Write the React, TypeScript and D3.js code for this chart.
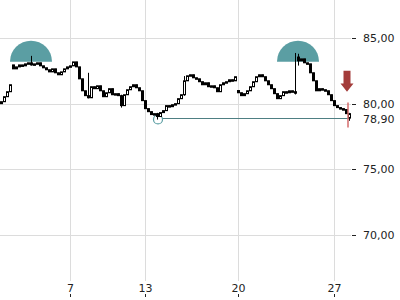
import React from "react";
import * as d3 from "d3";

const closes: number[] = [
  80.15, 80.53, 80.91, 81.44, 82.65, 82.8, 82.95, 82.88, 83.03, 83.11,
  82.95, 83.03, 83.11, 82.88, 82.73, 82.58, 82.42, 82.65, 82.35, 82.2,
  82.42, 82.65, 82.8, 82.88, 83.18, 82.8, 81.89, 80.98, 80.61, 80.45,
  81.29, 81.14, 81.36, 80.98, 80.53, 80.83, 81.14, 80.68, 80.76, 80.61,
  79.85, 80.68, 81.06, 81.29, 81.44, 81.21, 80.98, 80.23, 79.62, 79.39,
  79.17, 79.24, 79.02, 79.32, 79.47, 79.85, 79.77, 79.92, 80.0, 80.38,
  80.68, 81.74, 82.12, 82.2, 81.97, 81.89, 81.67, 81.44, 81.59, 81.29,
  81.36, 81.21, 80.91, 81.44, 81.59, 81.67, 81.82, 81.74, 82.05, 80.83,
  80.61, 80.76, 80.98, 81.29, 81.67, 82.05, 82.2, 82.05, 81.74, 81.44,
  81.14, 80.76, 80.38, 80.61, 80.91, 80.83, 80.98, 80.91, 80.83, 83.26,
  83.41, 83.11, 83.03, 82.35, 81.74, 80.98, 81.14, 81.06, 80.98, 80.68,
  80.23, 79.85, 79.7, 79.62, 79.55, 79.24, 78.9,
];
const firstOpen = 80.0;

// opening gaps: [candle index, open]
const gapOpens: [number, number][] = [
  [4, 82.95],
  [99, 83.55],
  [79, 81.0],
];

// [candle index, high, low]
const wicks: [number, number, number][] = [
  [10, 83.64, 82.9],
  [29, 82.35, 80.4],
  [40, 80.68, 79.7],
  [52, 79.3, 78.79],
  [61, 82.1, 80.6],
  [98, 83.86, 80.7],
  [99, 83.8, 82.9],
  [116, 79.3, 78.7],
];

const yTicks = [85, 80, 75, 70];
const lastPrice = 78.9;
const xTickIdx = [23, 48, 79, 111];
const xTickLabels = ["7", "13", "20", "27"];

// highs marked with domes: [index, price]
const domes: [number, number][] = [
  [10, 83.2],
  [99, 83.2],
];
const lowMark: [number, number] = [52, 78.8];
const currentRange: [number, number] = [80.08, 78.18];
const arrowPrice: [number, number] = [82.5, 80.9];

const fmt = (v: number) => v.toFixed(2).replace(".", ",");

export default function App() {
  const W = 400, H = 300;
  const x = d3.scaleLinear().domain([0, closes.length - 1]).range([1, 349]);
  const y = d3.scaleLinear().domain([70, 85]).range([235, 38]);
  const plotRight = 351;
  const plotBottom = 281;

  const candles = closes.map((c, i) => {
    const g = gapOpens.find((k) => k[0] === i);
    const o = g ? g[1] : i === 0 ? firstOpen : closes[i - 1];
    let hi = Math.max(o, c), lo = Math.min(o, c);
    const w = wicks.find((k) => k[0] === i);
    if (w) { hi = Math.max(hi, w[1]); lo = Math.min(lo, w[2]); }
    return { i, o, c, hi, lo };
  });

  const teal = "#5b9ea3";
  const arrowX = x(closes.length - 1) - 2;
  const ay0 = y(arrowPrice[0]), ay1 = y(arrowPrice[1]);
  const headStart = ay0 + (ay1 - ay0) * 0.6;

  return (
    <svg width={W} height={H} style={{ position: "absolute", left: 0, top: 0, fontFamily: "DejaVu Sans", fontSize: 11 }}>
      <rect width={W} height={H} fill="#fff" />
      {yTicks.map((t) => (
        <line key={"gy" + t} x1={0} x2={plotRight} y1={Math.round(y(t)) + 0.5} y2={Math.round(y(t)) + 0.5} stroke="#dcdcdc" />
      ))}
      {xTickIdx.map((t) => (
        <line key={"gx" + t} x1={Math.round(x(t)) + 0.5} x2={Math.round(x(t)) + 0.5} y1={0} y2={plotBottom} stroke="#dcdcdc" />
      ))}
      {domes.map(([i, p], k) => {
        const cx = x(i), cy = y(p), r = 21;
        return <path key={"d" + k} d={`M${cx - r},${cy} A${r},${r} 0 0 1 ${cx + r},${cy} Z`} fill={teal} />;
      })}
      <line x1={x(lowMark[0]) + 5} x2={plotRight - 2} y1={Math.round(y(lastPrice)) + 0.5} y2={Math.round(y(lastPrice)) + 0.5} stroke="#4e7f83" strokeWidth={1} />
      <circle cx={x(lowMark[0]) + 1} cy={y(lowMark[1])} r={4.5} fill="none" stroke={teal} strokeWidth={1.2} />
      {candles.map((d) => {
        const cx = Math.round(x(d.i));
        const top = y(Math.max(d.o, d.c));
        const bot = y(Math.min(d.o, d.c));
        const up = d.c >= d.o;
        const isLast = d.i === closes.length - 1;
        return (
          <g key={d.i}>
            <line x1={cx + 0.5} x2={cx + 0.5} y1={y(d.hi)} y2={y(d.lo)} stroke="#000" strokeWidth={1} />
            <rect x={cx - 0.5} y={top} width={2} height={Math.max(1.5, bot - top)} fill={up || isLast ? "#fff" : "#000"} stroke="#000" strokeWidth={1} />
          </g>
        );
      })}
      <line x1={x(closes.length - 1) - 1} x2={x(closes.length - 1) - 1} y1={y(currentRange[0])} y2={y(currentRange[1])} stroke="#d56b6b" strokeWidth={1.5} />
      <path
        d={`M${arrowX - 3.5},${ay0} L${arrowX + 3.5},${ay0} L${arrowX + 3.5},${headStart} L${arrowX + 6.5},${headStart} L${arrowX},${ay1} L${arrowX - 6.5},${headStart} L${arrowX - 3.5},${headStart} Z`}
        fill="#a33c3a"
      />
      {yTicks.map((t) => (
        <g key={"ly" + t}>
          <line x1={352} x2={356} y1={Math.round(y(t)) + 0.5} y2={Math.round(y(t)) + 0.5} stroke="#222" />
          <text x={363} y={y(t)} dy="0.35em" fill="#222">{fmt(t)}</text>
        </g>
      ))}
      <text x={363} y={y(lastPrice) + 1} dy="0.35em" fill="#222">{fmt(lastPrice)}</text>
      {xTickIdx.map((t, k) => (
        <g key={"lx" + t}>
          <text x={Math.round(x(t)) + 0.5} y={292} textAnchor="middle" fill="#222">{xTickLabels[k]}</text>
          <line x1={Math.round(x(t)) + 0.5} x2={Math.round(x(t)) + 0.5} y1={294} y2={297} stroke="#222" />
        </g>
      ))}
    </svg>
  );
}
